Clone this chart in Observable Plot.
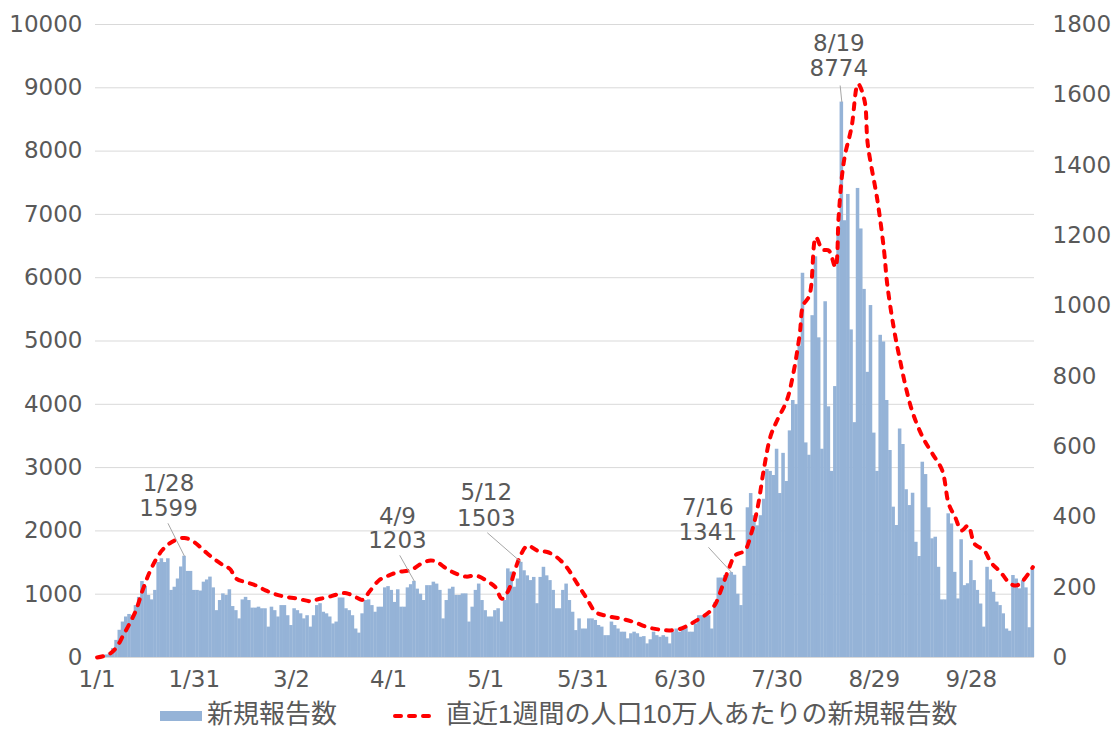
<!DOCTYPE html>
<html><head><meta charset="utf-8">
<script src="https://cdn.jsdelivr.net/npm/d3@7"></script>
<script src="https://cdn.jsdelivr.net/npm/@observablehq/plot@0.6"></script>
<style>
html,body{margin:0;padding:0;background:#fff;}
#wrap{position:relative;width:1115px;height:729px;background:#fff;}
#chart{position:absolute;left:0;top:0;}
.lg{position:absolute;font-family:"Liberation Sans","Noto Sans CJK JP",sans-serif;font-size:26px;line-height:29px;color:#595959;white-space:nowrap;}
</style></head><body>
<div id="wrap"><div id="chart"></div><div id="legend"></div></div>
<script>
// ---- data (day index 0 = 1/1) ----
const dailyCounts = [
5,10,20,40,70,140,270,430,560,640,
680,660,820,950,1200,1120,980,910,1060,1500,
1560,1500,1560,1060,1110,1240,1430,1599,1360,1360,
1060,1060,1050,1190,1225,1270,1100,740,900,1005,
980,1070,805,740,610,910,950,900,780,780,
795,770,770,480,795,740,640,820,820,660,
505,770,740,690,610,660,480,660,820,850,
715,690,640,530,560,940,940,770,740,660,
450,385,690,900,910,820,715,795,795,1100,
1120,1060,870,1070,795,795,1100,1150,1203,1080,
1000,900,1135,1135,1190,1160,1060,610,900,1080,
1110,980,980,1005,1005,560,795,1060,1160,900,
740,640,640,740,770,560,900,1400,1350,1110,
1240,1503,1370,1290,1215,1265,850,1265,1425,1290,
1215,1060,770,770,1060,1160,900,715,425,610,
450,450,610,610,585,505,480,345,345,560,
505,450,400,400,295,375,400,375,320,330,
215,280,400,345,320,345,320,215,400,450,
400,450,480,400,400,530,660,660,660,660,
450,870,1255,1255,1295,1300,1341,1300,1000,820,
1440,2365,2590,2240,2080,2240,2500,2970,2940,2875,
3290,2590,3225,2780,3580,4060,3995,4920,6070,3390,
3195,5400,6330,5050,3290,5620,3960,2940,4280,6770,
8774,6900,7315,5175,3710,7410,6770,5815,4505,5560,
3545,2940,5090,4985,4060,3270,2375,2085,3610,3365,
2650,2400,2595,1820,1595,3085,2890,2365,1875,1900,
1425,910,910,2270,2110,1345,925,1860,1135,1165,
1530,1215,1060,845,480,1425,1225,1030,875,820,
690,450,415,1295,1240,1085,1215,1100,470,1425
];
const lineDays = [0,2,4,6,8,10,12,14,16,18,20,22,24,27,30,33,36,39,41,43,46,49,52,55,58,62,66,68,71,74,77,80,82,84,87,90,93,97,100,103,105,108,111,114,117,121,123,125,127,129,131,133,136,139,142,145,148,151,154,157,162,166,170,174,177,180,183,186,189,191,193,195,197,200,202,204,206,208,210,213,215,217,218,220,222,224,226,228,229,230,231,233,235,237,238,241,243,244,246,248,250,252,255,258,261,263,265,267,269,271,274,276,279,282,284,286,289];
const lineValues = [0,4,11,29,62,96,134,190,238,276,304,322,333,340,328,304,281,262,252,224,214,205,191,180,173,167,160,165,171,179,183,171,164,186,219,233,243,249,266,276,271,252,238,230,233,214,200,167,190,247,295,318,304,300,285,257,214,171,129,119,110,100,86,79,77,81,94,110,129,153,200,250,290,304,352,427,540,630,674,731,807,920,1000,1030,1195,1160,1157,1110,1252,1366,1430,1508,1631,1584,1460,1299,1160,1063,939,844,759,693,626,579,532,437,399,361,375,323,304,271,243,210,205,219,257];
const xTickDays = [0,30,60,90,120,150,180,210,240,270];
const xTickLabels = ["1/1","1/31","3/2","4/1","5/1","5/31","6/30","7/30","8/29","9/28"];
const leftTicks = [0,1000,2000,3000,4000,5000,6000,7000,8000,9000,10000];
const rightTicks = [0,200,400,600,800,1000,1200,1400,1600,1800];
const annDays = [27,98,131,196,230];
const annDates = ["1/28","4/9","5/12","7/16","8/19"];
const seriesNames = ["新規報告数","直近1週間の人口10万人あたりの新規報告数"];

// ---- layout / style ----
const W = 1115, H = 700, mL = 95, mR = 81, mT = 24, mB = 43;
const yMax = 10000, rightMax = 1800, k = yMax / rightMax;
const nDays = dailyCounts.length;
const pxDay = (W - mL - mR) / nDays;
const pxUnit = (H - mT - mB) / yMax;
const barColor = "#95b3d7", lineColor = "#ff0000", textColor = "#595959";
const numFont = "DejaVu Sans";
// per annotation: [text dx, value-line dy, date-line dy, leader dx, leader dy] in px
const annLayout = [
  [-16, -48, -73, -16.6, -33],
  [-17, -41, -65, -14.7, -26],
  [-35, -44, -70, -34, -29.6],
  [-24, -40, -65, -23.3, -25.3],
  [-3, -33, -58, -1.7, -16.6]
];

const bars = dailyCounts.map((v, i) => ({day: i, value: v}));
const linePts = lineDays.map((d, i) => ({day: d, r: lineValues[i]}));
const anns = annDays.map((d, i) => ({day: d, value: dailyCounts[d], date: annDates[i], i}));

const marks = [
  Plot.gridY({ticks: leftTicks, stroke: "#d9d9d9", strokeOpacity: 1, strokeWidth: 1}),
  Plot.rectY(bars, {x1: d => d.day - 0.5, x2: d => d.day + 0.5, y: "value", fill: barColor,
    insetLeft: -0.15, insetRight: -0.15}),
  Plot.ruleY([0], {stroke: "#d9d9d9", strokeWidth: 1.2}),
  Plot.line(linePts, {x: "day", y: d => d.r * k, stroke: lineColor, strokeWidth: 4,
    strokeDasharray: "6,8", strokeLinecap: "round", curve: "catmull-rom"}),
  Plot.axisY({ticks: leftTicks, anchor: "left", tickSize: 0, tickPadding: 13, label: null,
    tickFormat: d => String(d), fontFamily: numFont}),
  Plot.axisY({ticks: rightTicks.map(r => r * k), anchor: "right", tickSize: 0, tickPadding: 18, label: null,
    tickFormat: v => String(Math.round(v / k)), fontFamily: numFont}),
  Plot.axisX({ticks: xTickDays, anchor: "bottom", tickSize: 0, tickPadding: 13, label: null,
    tickFormat: d => xTickLabels[xTickDays.indexOf(d)], fontFamily: numFont})
];
for (const a of anns) {
  const [tdx, vdy, ddy, ldx, ldy] = annLayout[a.i];
  marks.push(Plot.link([a], {x1: "day", y1: "value",
    x2: d => d.day + ldx / pxDay, y2: d => d.value - ldy / pxUnit,
    stroke: "#a6a6a6", strokeWidth: 1}));
  marks.push(Plot.text([a], {x: "day", y: "value", text: d => String(d.value), dx: tdx, dy: vdy,
    fill: textColor, fontFamily: numFont}));
  marks.push(Plot.text([a], {x: "day", y: "value", text: "date", dx: tdx, dy: ddy,
    fill: textColor, fontFamily: numFont}));
}

const chart = Plot.plot({
  width: W, height: H,
  marginLeft: mL, marginRight: mR, marginTop: mT, marginBottom: mB,
  x: {type: "linear", domain: [-0.5, nDays - 0.5], axis: null},
  y: {type: "linear", domain: [0, yMax], axis: null},
  style: {fontFamily: numFont, fontSize: "23px", color: textColor, background: "#fff", overflow: "visible"},
  marks
});
document.getElementById("chart").appendChild(chart);

// ---- legend (below the svg) ----
const lg = document.getElementById("legend");
lg.innerHTML = `
<div style="position:absolute;left:160px;top:711px;width:42px;height:10px;background:${barColor}"></div>
<div class="lg" style="left:207px;top:700px;">${seriesNames[0]}</div>
<svg style="position:absolute;left:391px;top:706px;" width="50" height="20">
  <line x1="4" y1="10" x2="46" y2="10" stroke="${lineColor}" stroke-width="4" stroke-dasharray="6,8" stroke-linecap="round"/>
</svg>
<div class="lg" style="left:446px;top:700px;">${seriesNames[1]}</div>`;
</script>
</body></html>
